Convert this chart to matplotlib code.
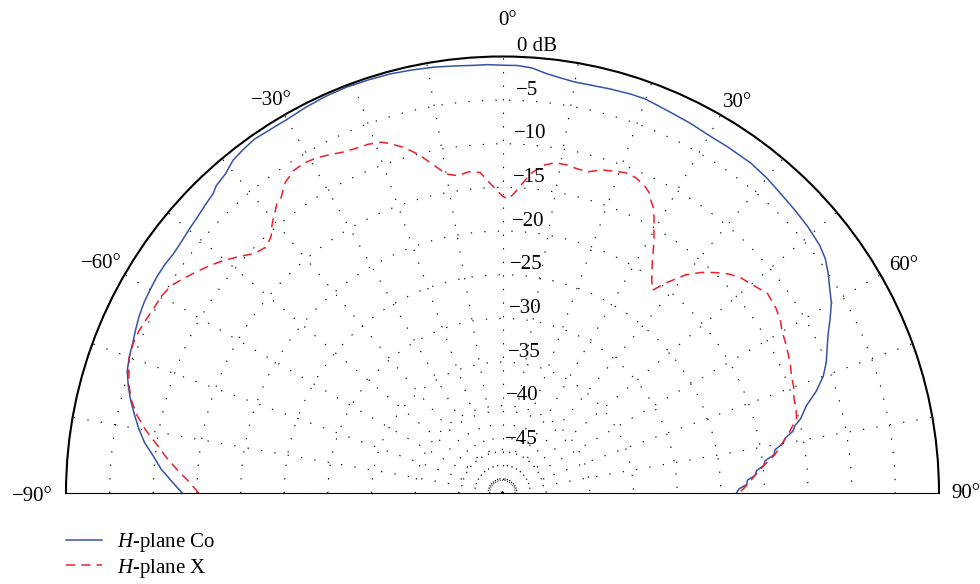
import numpy as np
import matplotlib
matplotlib.use("Agg")
import matplotlib.pyplot as plt
from matplotlib.lines import Line2D
from matplotlib.transforms import ScaledTranslation

plt.rcParams['font.family'] = ['Liberation Serif', 'DejaVu Serif']
plt.rcParams['mathtext.fontset'] = 'custom'
plt.rcParams['mathtext.rm'] = 'Liberation Serif'
plt.rcParams['mathtext.it'] = 'Liberation Serif:italic'

# ---------------- data ----------------
co_angle = [-90, -88, -86, -84, -82, -80, -78, -76, -74, -72, -70, -68, -66, -64, -62,
            -60, -58, -56, -54, -52, -50, -48, -46, -44, -43, -41, -39, -37, -35, -32,
            -30, -27, -24, -21, -18, -15, -12, -9, -6, -4, -2, 0, 2, 4, 6, 8, 10, 12,
            15, 18, 20, 22, 24, 27, 30, 33, 37, 40, 43, 46, 49, 52, 54, 56, 58, 60,
            62, 64, 66, 68, 70, 72, 74, 76, 77, 78, 79, 80, 81, 82, 83, 84, 85, 86,
            87, 88, 89, 90]
co_db = [-13.3, -12.1, -10.8, -9.8, -8.6, -7.7, -6.9, -6.1, -5.4, -4.8, -4.5, -4.3, -4.0,
         -3.7, -3.5, -3.4, -3.3, -3.3, -3.4, -3.3, -3.1, -2.9, -2.6, -2.3, -1.9, -1.6,
         -0.95, -0.7, -0.5, -0.6, -0.6, -0.4, -0.25, -0.2, -0.25, -0.3, -0.45, -0.6,
         -0.8, -0.9, -0.9, -1.0, -1.0, -1.2, -1.7, -2.0, -2.2, -2.2, -2.1, -2.0, -2.0,
         -2.2, -2.35, -2.5, -2.7, -2.7, -2.7, -2.9, -3.2, -3.4, -3.6, -3.9, -4.3, -5.0,
         -5.8, -6.5, -7.5, -8.5, -9.3, -10.0, -10.9, -12.2, -13.8, -14.8, -15.6, -16.0,
         -17.0, -17.4, -18.4, -18.6, -19.7, -19.9, -20.8, -21.0, -21.9, -22.0, -22.9,
         -23.2]

x_angle = [-90, -88, -86, -84, -82, -80, -78, -76, -74, -72, -70, -68, -66, -64, -62,
           -60, -58, -56, -54, -52, -50, -48, -46, -44, -43, -42, -41, -40, -39, -38,
           -37, -36, -35, -33, -31, -29, -27, -25, -23, -21, -19, -18, -16, -14, -12,
           -10, -8, -6, -4, -2, 0, 1, 2, 4, 5, 7, 9, 11, 13, 15, 17, 19, 21, 23, 25,
           26, 27, 28, 29, 30, 31, 33, 35, 36.5, 38, 40, 42, 44, 46, 48, 50, 53, 56,
           58, 60, 62, 64, 66, 68, 70, 72, 74, 76, 77, 78, 80, 82, 84, 86, 88, 90]
x_db = [-15.2, -14.1, -12.7, -11.3, -10.0, -8.5, -7.2, -6.2, -5.5, -5.0, -4.5, -4.35,
        -4.4, -4.6, -4.8, -4.9, -5.2, -6.0, -6.8, -7.6, -8.5, -9.5, -10.5, -10.9,
        -10.7, -10.4, -9.7, -9.1, -8.6, -8.0, -7.8, -7.2, -6.6, -6.0, -5.9, -6.1,
        -6.5, -6.9, -7.1, -7.2, -7.5, -7.9, -8.8, -10.0, -11.5, -12.9, -13.3, -13.0,
        -13.2, -14.7, -16.0, -16.3, -15.8, -14.2, -13.3, -12.2, -11.7, -11.7, -11.9,
        -11.9, -11.3, -11.0, -10.7, -10.8, -11.3, -11.7, -12.5, -13.1, -14.2, -15.3,
        -16.3, -18.5, -20.2, -21.1, -19.4, -17.4, -16.0, -14.9, -13.9, -13.2, -12.8,
        -12.0, -12.2, -12.5, -13.0, -13.3, -13.6, -13.9, -14.3, -14.5, -14.9, -15.0,
        -15.3, -15.9, -16.4, -17.5, -18.5, -19.9, -21.0, -21.9, -22.9]

r_ticks = [-45, -40, -35, -30, -25, -20, -15, -10, -5]
r_labels = ['\u221245', '\u221240', '\u221235', '\u221230', '\u221225', '\u221220',
            '\u221215', '\u221210', '\u22125']
theta_labels = {0: '0\u00b0', -30: '\u221230\u00b0', 30: '30\u00b0',
                -60: '\u221260\u00b0', 60: '60\u00b0', -90: '\u221290\u00b0', 90: '90\u00b0'}
center_ring_db = -48.55
series_labels = ['$\\mathit{H}$-plane Co', '$\\mathit{H}$-plane X']

# ---------------- layout ----------------
W, H = 980, 584
cx, cy_top = 502.5, 493.0
R = 436.5
S = 2 * R
fig = plt.figure(figsize=(W / 100, H / 100), dpi=100)
bottom_px = (H - cy_top) - 0.25 * S
ax = fig.add_axes([(cx - R) / W, bottom_px / H, S / W, S / H], projection='polar')
ax.set_theta_zero_location('N')
ax.set_theta_direction(-1)
ax.set_thetamin(-90)
ax.set_thetamax(90)
ax.set_rlim(-50, 0)
ax.set_facecolor('none')

dot = (0, (1.2, 11))
ax.set_xticks(np.deg2rad(np.arange(-90, 91, 10)))
ax.set_xticklabels([])
ax.set_yticks(r_ticks)
ax.set_yticklabels([])
ax.tick_params(length=0)
ax.grid(True, color='black', linewidth=0.8, linestyle=dot)
for sp in ('start', 'end', 'inner'):
    if sp in ax.spines:
        ax.spines[sp].set_visible(False)
ax.spines['polar'].set_linewidth(1.5)
ax.spines['polar'].set_color('black')

th = np.linspace(-np.pi / 2, np.pi / 2, 100)
ax.plot(th, np.full_like(th, center_ring_db), color='black', lw=0.7,
        linestyle=(0, (1, 1.5)))

ax.plot(np.deg2rad(co_angle), co_db, color='#3652a8', lw=1.1)
ax.plot(np.deg2rad(x_angle), x_db, color='#ec1f2a', lw=1.1, linestyle=(0, (6, 4)))

pxdb = R / 50.0
def rpx(px):
    return px / pxdb - 50

label_pos = {0: (0.67, 473), -30: (-30.5, 456), 30: (31, 456), -60: (-60.2, 462.7),
             60: (60.5, 461), -90: (-90.4, 470), 90: (90, 463.5)}
for a, txt in theta_labels.items():
    t, rp = label_pos[a]
    ax.text(np.deg2rad(t), rpx(rp), txt, ha='center', va='center', fontsize=15,
            clip_on=False)

off = ax.transData + ScaledTranslation(1 / 100, 10 / 100, fig.dpi_scale_trans)
for v, lab in zip(r_ticks + [0], r_labels + ['0 dB']):
    ax.text(np.deg2rad(1.75), v, lab, ha='left', va='center', fontsize=15,
            transform=off, clip_on=False)

handles = [Line2D([], [], color='#3652a8', lw=1.1),
           Line2D([], [], color='#ec1f2a', lw=1.1, linestyle=(0, (6, 4)))]
fig.legend(handles, series_labels, loc='upper left', bbox_to_anchor=(66 / W, 1 - 531 / H),
           frameon=False, fontsize=15, handlelength=1.75, handletextpad=0.7,
           labelspacing=0.12, borderpad=0, borderaxespad=0)

fig.savefig('out.png', dpi=100)
